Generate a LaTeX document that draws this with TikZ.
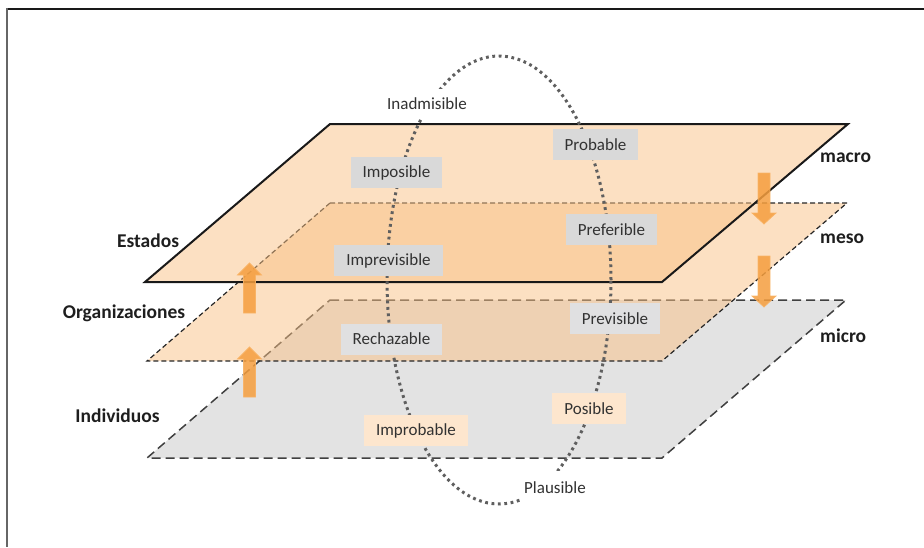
\documentclass[tikz,border=0pt]{standalone}
\usepackage{fontspec}
\setmainfont{Carlito}
\definecolor{peach}{RGB}{249,193,133}
\definecolor{planegray}{RGB}{227,227,227}
\definecolor{boxgray}{RGB}{217,217,217}
\definecolor{boxgraylt}{RGB}{224,224,225}
\definecolor{boxpeach}{RGB}{253,230,206}
\definecolor{arrorange}{RGB}{245,158,62}
\definecolor{arredge}{RGB}{249,178,100}
\definecolor{txt}{RGB}{50,50,50}
\definecolor{boldtxt}{RGB}{30,30,30}
\definecolor{dotcol}{RGB}{95,95,95}
\begin{document}
\begin{tikzpicture}[x=1pt,y=-1pt,
  topplane/.style={fill=peach,fill opacity=0.5,draw=black!90,line width=2pt,line join=miter},
  midplane/.style={fill=peach,fill opacity=0.5,draw=black!85,line width=1.2pt,dash pattern=on 5pt off 3pt},
  botplane/.style={fill=planegray,draw=black!75,line width=1.5pt,dash pattern=on 9pt off 5pt},
  dotline/.style={draw=dotcol,line width=3pt,dash pattern=on 2.8pt off 3.6pt},
  lbl/.style={font=\fontsize{17}{19}\selectfont,text=txt,inner xsep=12pt,inner ysep=0pt,minimum height=31pt},
  graybox/.style={lbl,fill=boxgray},
  graylt/.style={lbl,fill=boxgraylt},
  peachbox/.style={lbl,fill=boxpeach},
  freelbl/.style={font=\fontsize{17}{19}\selectfont,text=txt,fill=white,inner xsep=2pt,inner ysep=0pt},
  levellbl/.style={font=\fontsize{19.5}{22}\selectfont\bfseries,text=boldtxt,inner sep=0pt},
  arrowsty/.style={fill=arrorange,fill opacity=0.85,draw=arredge,draw opacity=0.9,line width=0.8pt},
  uparr/.pic={\path[arrowsty] (0,0) -- (12,12) -- (6,12) -- (6,50) -- (-6,50) -- (-6,12) -- (-12,12) -- cycle;},
  downarr/.pic={\path[arrowsty] (-6,0) -- (6,0) -- (6,40) -- (12,40) -- (0,51) -- (-12,40) -- (-6,40) -- cycle;}
]
\useasboundingbox (0,0) rectangle (924,547);
% frame
\draw[black!90,line width=2pt] (6,8.5) -- (924,8.5);
\draw[black!60,line width=2pt] (7,8) -- (7,547);
% planes
\path[botplane] (330,300) -- (846,300) -- (662,458) -- (147,458) -- cycle;
\path[midplane] (330,203) -- (847,203) -- (662,361) -- (147,361) -- cycle;
\path[topplane] (330,124) -- (848,124) -- (662,282) -- (145,282) -- cycle;
% dotted loop
\draw[dotline] (499,280) ellipse [x radius=112pt, y radius=224pt];
% arrows
\pic at (249.5,263) {uparr};
\pic at (249.5,347) {uparr};
\pic at (764,173) {downarr};
\pic at (764,256) {downarr};
% labels on the loop
\node[freelbl,minimum height=30pt] (inadm) at (427,104) {Inadmisible};
\node[freelbl,minimum height=34pt] (plaus) at (555,488) {Plausible};
\node[graybox] (probable) at (595.5,144.5) {Probable};
\node[graybox] (imposible) at (396.5,172.5) {Imposible};
\node[graybox] (preferible) at (611.5,229.5) {Preferible};
\node[graybox] (imprevisible) at (388.5,260.5) {Imprevisible};
\node[graylt] (previsible) at (615,318.5) {Previsible};
\node[graylt] (rechazable) at (391.5,339) {Rechazable};
\node[peachbox] (posible) at (589,408.5) {Posible};
\node[peachbox] (improbable) at (416,430.5) {Improbable};
% level labels
\node[levellbl] (estados) at (148,241) {Estados};
\node[levellbl] (organiz) at (124,313) {Organizaciones};
\node[levellbl] (indiv) at (117.5,416) {Individuos};
\node[levellbl,anchor=west] (macro) at (820,158) {macro};
\node[levellbl,anchor=west] (meso) at (820,239) {meso};
\node[levellbl,anchor=west] (micro) at (820,336) {micro};
\end{tikzpicture}
\end{document}
